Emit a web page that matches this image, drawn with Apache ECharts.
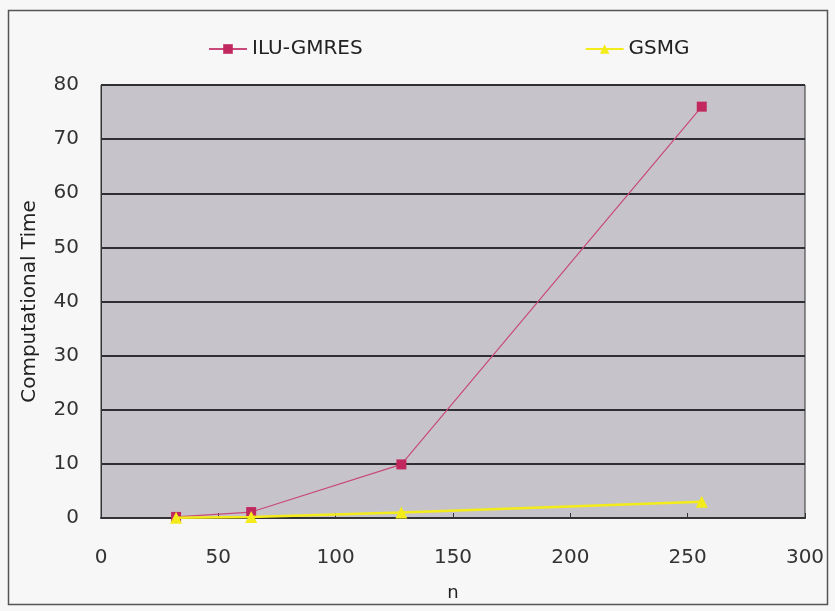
<!DOCTYPE html>
<html>
<head>
<meta charset="utf-8">
<script src="https://cdn.jsdelivr.net/npm/echarts@6/dist/echarts.min.js"></script>
<style>
  html, body { margin: 0; padding: 0; background: #f7f7f7; }
  #chart { width: 835px; height: 611px; }
</style>
</head>
<body>
<div id="chart"></div>
<script>
// Problem sizes and timings for the two solvers
const nValues = [32, 64, 128, 256];
const iluGmresTime = [0.2, 1.1, 9.9, 76];
const gsmgTime = [0.05, 0.2, 1.0, 3.0];
const xTicks = [0, 50, 100, 150, 200, 250, 300];
const yTicks = [0, 10, 20, 30, 40, 50, 60, 70, 80];

const pairs = (xs, ys) => xs.map((x, i) => [x, ys[i]]);

const chart = echarts.init(document.getElementById('chart'));
const font = '"DejaVu Sans", Arial, sans-serif';

chart.setOption({
  backgroundColor: '#f7f7f7',
  animation: false,
  graphic: [{
    type: 'rect',
    shape: { x: 8.5, y: 10.5, width: 819, height: 594 },
    style: { fill: 'none', stroke: '#555', lineWidth: 1.5 },
    z: -1
  }],
  legend: {
    top: 34,
    left: 203,
    itemGap: 222,
    itemWidth: 38,
    itemHeight: 12,
    textStyle: { fontFamily: font, fontSize: 20, color: '#222' },
    data: ['ILU-GMRES', 'GSMG']
  },
  grid: { left: 101, right: 30, top: 85, bottom: 93, show: true, backgroundColor: '#c6c4ca', borderColor: '#333', borderWidth: 1 },
  xAxis: {
    type: 'value',
    min: xTicks[0], max: xTicks[xTicks.length - 1], interval: 50,
    name: 'n', nameLocation: 'middle', nameGap: 66,
    nameTextStyle: { fontFamily: font, fontSize: 18, color: '#222' },
    axisLine: { lineStyle: { color: '#333', width: 2 } },
    axisTick: { inside: true, length: 5, lineStyle: { color: '#333' } },
    axisLabel: { fontFamily: font, fontSize: 20, color: '#333', margin: 30 },
    splitLine: { show: false }
  },
  yAxis: {
    type: 'value',
    min: yTicks[0], max: yTicks[yTicks.length - 1], interval: 10,
    name: 'Computational Time', nameLocation: 'middle', nameGap: 61,
    nameTextStyle: { fontFamily: font, fontSize: 20, color: '#222' },
    axisLine: { show: true, lineStyle: { color: '#333', width: 1 } },
    axisTick: { show: false },
    axisLabel: { fontFamily: font, fontSize: 20, color: '#333', margin: 22 },
    splitLine: { lineStyle: { color: '#2e2e33', width: 2 } }
  },
  series: [
    {
      name: 'ILU-GMRES',
      type: 'line',
      data: pairs(nValues, iluGmresTime),
      symbol: 'rect', symbolSize: 10,
      itemStyle: { color: '#c0285e' },
      lineStyle: { color: '#c84a78', width: 1.2 },
      z: 3
    },
    {
      name: 'GSMG',
      type: 'line',
      data: pairs(nValues, gsmgTime),
      symbol: 'triangle', symbolSize: 12,
      itemStyle: { color: '#f4ec1a' },
      lineStyle: { color: '#f4ec1a', width: 2.5 },
      z: 4
    }
  ]
});
</script>
</body>
</html>
